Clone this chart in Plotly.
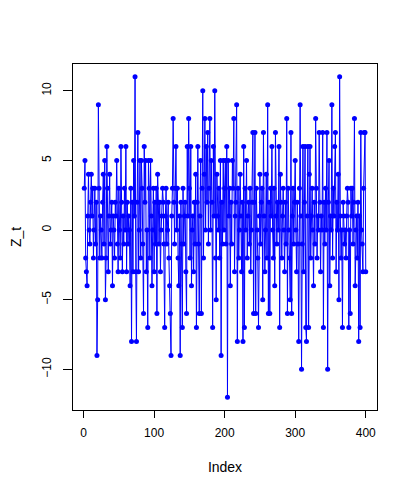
import plotly.graph_objects as go

# series Z_t (index 1..400)
z_t = [
    3, 5, -2, -3, -4, 1, 4, 0, -1, 2, 4, 1, 3, -2, 0, 3, -1, 2, -9, -5,
    9, 3, -2, 1, 0, -2, 2, 4, -1, 5, -5, -2, 6, 3, -3, 1, 4, -1, 0, 2,
    -4, 1, 0, -2, 2, 1, 5, -1, -3, 3, 0, -2, 6, 2, -3, 1, -1, 3, 0, 6,
    -3, 2, -1, 1, 0, -4, 3, -8, 2, -3, 5, 1, 11, -3, -8, 2, 7, -3, 0, 5,
    -2, 5, 3, -1, -6, 6, 2, 5, -3, 0, -7, 5, 3, -2, 5, 1, -4, 0, 3, -3,
    2, -1, 3, -6, 4, 2, -1, 2, -3, 0, 1, 3, 2, -1, -7, 1, 3, -1, 0, 2,
    -2, -4, -6, -9, 1, 3, 8, 2, -1, 3, 6, 0, 3, -2, -4, 1, -9, 2, -1, -7,
    3, -1, 1, 2, -3, -6, 6, 1, 8, 3, -2, 6, -4, 0, 1, -3, 2, -1, 4, -7,
    2, 6, -1, -6, 1, 5, -6, 3, 10, -2, 4, 8, 0, 6, 2, 7, -1, 3, 8, 0,
    5, 2, -7, 6, 1, 10, -2, -5, 4, 1, 0, 3, -2, 5, -9, 2, -1, 5, 0, 3,
    5, -1, 6, -12, 5, 1, 3, -4, 2, -1, 5, 3, 8, -3, 1, 2, 9, -8, 3, -2,
    0, 4, 1, -3, 2, -8, 6, -7, 3, 0, 5, -2, 1, 2, -1, 3, -3, 0, 2, 7,
    -6, 2, 7, -6, 3, 0, -2, -7, 1, 4, -1, 2, 3, -5, 7, 1, -3, 0, 4, -2,
    9, -6, 2, -6, 3, 1, 6, 0, -2, 3, -4, 7, 1, -1, 2, 0, 6, -7, 4, 2,
    -2, 1, 3, 0, -3, 2, -1, 8, -6, 3, 0, -2, -5, 7, -6, 1, 3, -1, 2, 5,
    0, -3, 2, -1, -8, 3, 9, 1, -10, -1, 6, -3, 2, 6, -7, -8, 1, 6, -7, 4,
    6, -2, 1, 3, 0, -4, 2, -1, 8, 3, -2, 1, 0, 7, 2, -3, 1, 0, 7, -7,
    2, -1, 3, 0, 7, -10, 2, 5, -4, 1, 0, 9, -2, 3, 1, 6, 7, -3, 2, 0,
    4, -5, 11, 1, -2, 0, -7, 2, 1, -1, 0, -2, 1, 3, 2, -7, 0, -6, 3, 1,
    3, -1, 2, 8, -4, 0, 1, -2, 2, -8, 1, -7, 7, 0, -1, -3, 3, 7, 7, -3,
]
index = list(range(1, len(z_t) + 1))

x_ticks = [0, 100, 200, 300, 400]
y_ticks = [-10, -5, 0, 5, 10]

fig = go.Figure()
fig.add_trace(go.Scatter(
    x=index, y=z_t, mode='lines+markers',
    line=dict(color='#0000FF', width=1),
    marker=dict(color='#0000FF', size=5),
    showlegend=False,
))

axis_font = dict(family='Liberation Sans, Arial, sans-serif', size=12, color='black')

# page body adds an 8px offset, so margins are shifted to put the box where R drew it
fig.update_layout(
    width=415, height=491,
    margin=dict(l=65, r=46, t=56, b=89),
    plot_bgcolor='white', paper_bgcolor='white',
    font=axis_font,
    xaxis=dict(
        range=[-14.96, 415.96], tickvals=x_ticks, automargin=False,
        showgrid=False, zeroline=False,
        showline=True, mirror=True, linecolor='black', linewidth=1,
        ticks='outside', ticklen=7, tickcolor='black', ticklabelstandoff=5,
        title=dict(text='Index', standoff=22),
    ),
    yaxis=dict(
        range=[-12.92, 11.92], tickvals=y_ticks, tickangle=-90, automargin=False,
        showgrid=False, zeroline=False,
        showline=True, mirror=True, linecolor='black', linewidth=1,
        ticks='outside', ticklen=9, tickcolor='black', ticklabelstandoff=7,
        title=dict(text='Z_t', standoff=27),
    ),
)

fig.write_html("out.html")
